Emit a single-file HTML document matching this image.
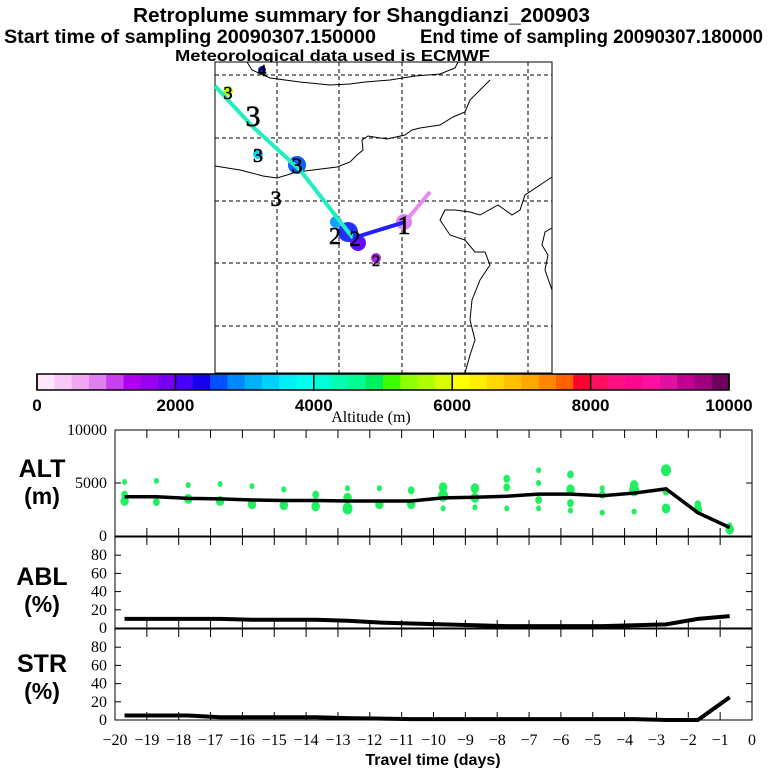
<!DOCTYPE html>
<html><head><meta charset="utf-8"><style>
html,body{margin:0;padding:0;background:#fff;}
svg{display:block;}
.t{font-family:"Liberation Sans",sans-serif;font-weight:bold;}
.tk{font-family:"Liberation Serif",serif;font-size:16px;}
</style></head><body>
<svg id="c" width="768" height="768" viewBox="0 0 768 768" xmlns="http://www.w3.org/2000/svg">
<text class="t" x="133" y="22" font-size="20" textLength="457" lengthAdjust="spacingAndGlyphs">Retroplume summary for Shangdianzi_200903</text>
<text class="t" x="4" y="43" font-size="19" textLength="372" lengthAdjust="spacingAndGlyphs">Start time of sampling 20090307.150000</text>
<text class="t" x="420" y="43" font-size="19" textLength="343" lengthAdjust="spacingAndGlyphs">End time of sampling 20090307.180000</text>
<text class="t" x="175" y="61" font-size="16" textLength="315" lengthAdjust="spacingAndGlyphs">Meteorological data used is ECMWF</text>
<g id="map"></g>
<g id="cbar"></g>
<text x="371" y="422" font-family="Liberation Serif,serif" font-size="16" text-anchor="middle">Altitude (m)</text>
<g id="panels"></g>
<text class="t" x="433" y="765" font-size="16" text-anchor="middle">Travel time (days)</text>
</svg>
<script>
const NS="http://www.w3.org/2000/svg";
function mk(p,tag,a){const e=document.createElementNS(NS,tag);for(const k in a)e.setAttribute(k,a[k]);p.appendChild(e);return e;}
// ---- data ----
const cbarColors=["#fde8fb","#f8c8f6","#f0a8f0","#e080f0","#c840f0","#b000f0","#9800f0","#7800f0","#4800ff","#1800f0","#0050ff","#0088ff","#00b0f8","#00d0f8","#00f0f8","#00fff0","#00ffd8","#00ffb0","#00ff90","#00f060","#40ff00","#90ff00","#b0ff00","#d8ff00","#ffff00","#ffee00","#ffd800","#ffc000","#ffa800","#ff8800","#ff6000","#ff0030","#ff1060","#ff1080","#ff0890","#ff10a0","#e010a0","#c00090","#a00080","#700060"];
const cbarTicks=[0,2000,4000,6000,8000,10000];
const days=[-19.7,-18.7,-17.7,-16.7,-15.7,-14.7,-13.7,-12.7,-11.7,-10.7,-9.7,-8.7,-7.7,-6.7,-5.7,-4.7,-3.7,-2.7,-1.7,-0.7];
const altMean=[3700,3700,3550,3500,3400,3350,3350,3300,3300,3300,3600,3650,3750,3950,3950,3800,4050,4450,2200,800];
const ablDays=[-19.7,-16.7,-15.7,-13.7,-12.7,-11.7,-10.7,-9.7,-8.7,-7.7,-4.7,-3.7,-2.7,-1.7,-0.7];
const ablVals=[10,10,9,9,8,6,5,4,3,2,2,3,4,10,13];
const strDays=[-19.7,-17.7,-16.7,-13.7,-12.7,-10.7,-3.7,-2.7,-1.7,-0.7];
const strVals=[5,5,3,3,2,1,1,0,0,25];
const blobDay=[0,0,0,1,1,2,2,3,3,4,4,5,5,6,6,7,7,7,8,8,9,9,10,10,10,11,11,11,12,12,12,13,13,13,13,14,14,14,14,15,15,15,16,16,16,17,17,17,18,18,19,19];
const blobAlt=[3300,3900,5100,3200,5200,3500,4800,3300,4900,3000,4700,2900,4400,2800,3900,2600,3600,4500,3000,4500,3000,4300,3800,4600,2600,3600,4500,2700,4600,5400,2600,3400,5000,6200,2600,4400,5800,3100,2400,3900,4500,2200,4300,4800,2300,4200,6200,2600,2500,3000,600,1000];
const blobR=[5,4,3,4,3,5,3,5,3,5,3,5,3,5,4,6,5,3,5,3,5,4,6,5,3,5,5,3,4,4,3,4,3,3,3,5,4,4,3,4,3,3,6,5,3,4,6,5,5,4,5,3];
// ---- map ----
const map=document.getElementById('map');
const mapRect=mk(map,'rect',{x:215,y:62,width:337,height:311,fill:'#fff',stroke:'#000','stroke-width':1});


[277,339,402,465,528].forEach(x=>mk(map,'line',{x1:x,y1:62,x2:x,y2:373,stroke:'#000','stroke-dasharray':'4,3','stroke-width':1}));
[75,138,201,263,326].forEach(y=>mk(map,'line',{x1:215,y1:y,x2:552,y2:y,stroke:'#000','stroke-dasharray':'4,3','stroke-width':1}));
const coasts=[
"247,62 252,70 270,78 300,82 330,85 350,84 365,82 390,80 415,76 440,74 455,68 458,62",
"215,166 240,170 263,176 277,178 297,172 313,170 337,167 350,162 357,155 363,150 362,140 368,136 387,139 405,135 412,130 420,128 440,125 453,117 465,112 470,100 480,90 490,80",
"552,177 540,185 525,195 520,210 512,215 505,210 498,205 480,215 470,212 455,210 445,210 440,220 450,235 465,240 475,252 485,252 490,265 480,280 472,300 470,320 475,340 470,355 465,373",
"552,228 545,232 542,245 548,255 545,270 552,290"
];
coasts.forEach(c=>mk(map,'polyline',{points:c,fill:'none',stroke:'#000','stroke-width':1}));
[[297,165,9,'#1060ff'],[348,232,10,'#2030ff'],[358,243,8,'#6010ff'],[336,222,6,'#10a0ff'],[376,258,5,'#b020f0'],[404,222,8,'#e080f0'],[258,154,5,'#10d0f0'],[228,91,5,'#c0ff00'],[262,70,4,'#2020d0']].forEach(b=>mk(map,'circle',{cx:b[0],cy:b[1],r:b[2],fill:b[3]}));
mk(map,'polyline',{points:'215,86 252,126 300,170 353,238',fill:'none',stroke:'#20f0c0','stroke-width':4});
mk(map,'line',{x1:353,y1:238,x2:405,y2:222,stroke:'#2020ff','stroke-width':4});
mk(map,'line',{x1:405,y1:222,x2:430,y2:192,stroke:'#e888f0','stroke-width':4});
[[262,76,'4',17],[228,99,'3',18],[253,126,'3',30],[258,162,'3',20],[297,173,'3',22],[276,206,'3',22],[335,244,'2',24],[355,246,'2',22],[376,266,'2',16],[404,234,'1',26]].forEach(n=>{const t=mk(map,'text',{x:n[0],y:n[1],'font-family':'Liberation Serif,serif','font-size':n[3],'text-anchor':'middle',fill:'#000',stroke:'#000','stroke-width':0.6});t.textContent=n[2];});
// ---- colorbar ----
const cb=document.getElementById('cbar');
const cbX=a=>37+a/10000*692;
cbarColors.forEach((c,i)=>{const r=mk(cb,'rect',{x:cbX(i*250),y:374,width:692/40+0.3,height:16,fill:c});

});
mk(cb,'rect',{x:37,y:374,width:692,height:16,fill:'none',stroke:'#000','stroke-width':1.5});
cbarTicks.forEach(v=>{mk(cb,'line',{x1:cbX(v),y1:374,x2:cbX(v),y2:390,stroke:'#000','stroke-width':1.5});
const t=mk(cb,'text',{x:cbX(v),y:411,'text-anchor':'middle',class:'t','font-size':17});t.textContent=v;

});
// ---- panels ----
const P=document.getElementById('panels');
const X=d=>752+d*31.85;
const L=115,R=752;
function panel(top,bot,max,ticks,name,l1,l2,ly){
 const g=mk(P,'g',{});
 
 
 const Y=v=>bot-(v/max)*(bot-top);
 mk(g,'rect',{x:L,y:top,width:R-L,height:bot-top,fill:'none',stroke:'#000','stroke-width':1});
 for(let d=-19;d<=-1;d++){mk(g,'line',{x1:X(d),y1:top,x2:X(d),y2:top+8,stroke:'#000'});mk(g,'line',{x1:X(d),y1:bot,x2:X(d),y2:bot-8,stroke:'#000'});}
 ticks.forEach(v=>{mk(g,'line',{x1:L,y1:Y(v),x2:L+6,y2:Y(v),stroke:'#000'});mk(g,'line',{x1:R,y1:Y(v),x2:R-6,y2:Y(v),stroke:'#000'});
 const t=mk(g,'text',{x:L-8,y:Y(v)+5,'text-anchor':'end',class:'tk'});t.textContent=v;});
 const a=mk(g,'text',{x:42,y:ly,'text-anchor':'middle',class:'t','font-size':25});a.textContent=l1;
 const b=mk(g,'text',{x:42,y:ly+27,'text-anchor':'middle',class:'t','font-size':23});b.textContent=l2;
 return {g,Y};
}
const alt=panel(430,536,10000,[0,5000,10000],'alt','ALT','(m)',477);
blobDay.forEach((di,i)=>{const c=mk(alt.g,'ellipse',{cx:X(days[di]),cy:alt.Y(blobAlt[i]),rx:blobR[i]*0.85,ry:blobR[i],fill:'#20f060'});

});
const altLine=mk(alt.g,'polyline',{points:days.map((d,i)=>X(d)+','+alt.Y(altMean[i])).join(' '),fill:'none',stroke:'#000','stroke-width':3.5});


const abl=panel(537,628,100,[0,20,40,60,80],'abl','ABL','(%)',585);
const ablLine=mk(abl.g,'polyline',{points:ablDays.map((d,i)=>X(d)+','+abl.Y(ablVals[i])).join(' '),fill:'none',stroke:'#000','stroke-width':4});


const str=panel(629,720,100,[0,20,40,60,80],'str','STR','(%)',672);
const strLine=mk(str.g,'polyline',{points:strDays.map((d,i)=>X(d)+','+str.Y(strVals[i])).join(' '),fill:'none',stroke:'#000','stroke-width':4});


for(let d=-20;d<=0;d++){const t=mk(P,'text',{x:X(d),y:745,'text-anchor':'middle',class:'tk'});t.textContent=d<0?'\u2212'+(-d):'0';

}
</script>
</body></html>
